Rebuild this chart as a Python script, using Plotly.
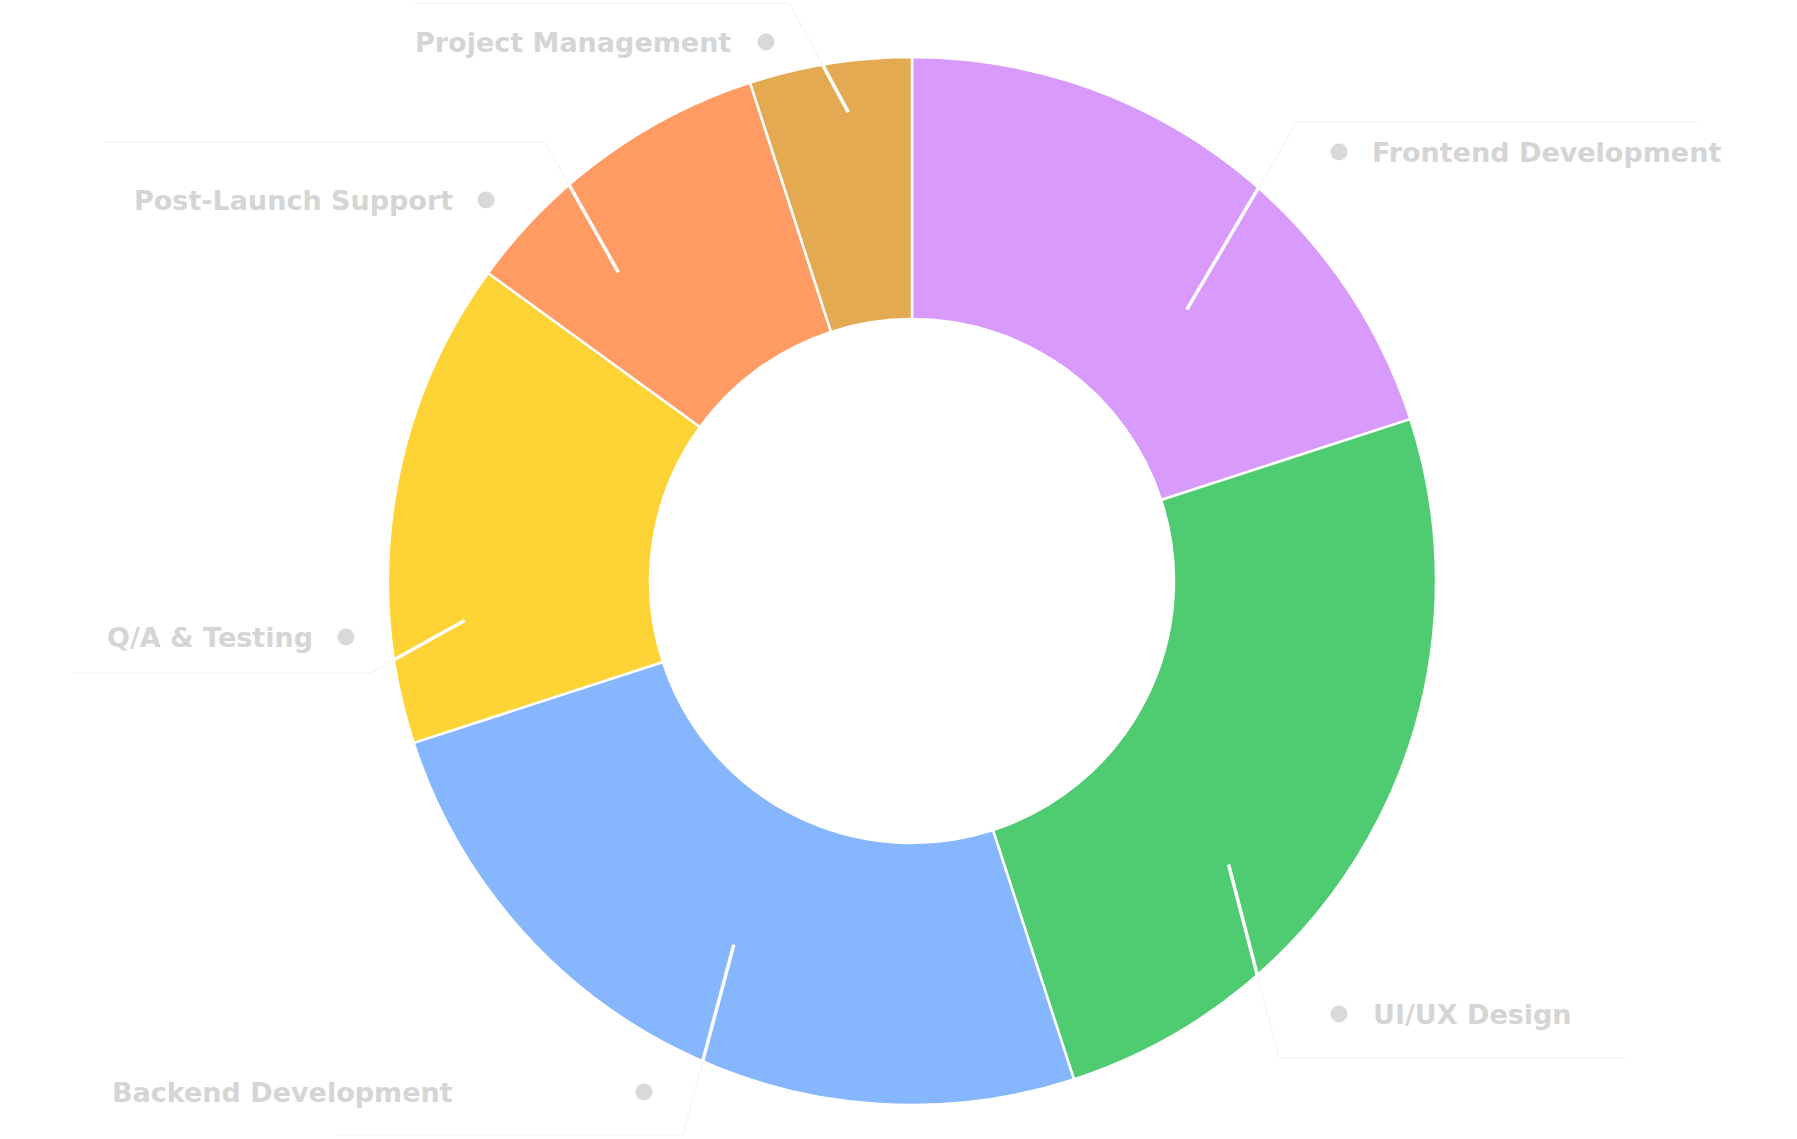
import math
import plotly.graph_objects as go

# ---------------- data ----------------
categories = ["Frontend Development", "UI/UX Design", "Backend Development",
              "Q/A & Testing", "Post-Launch Support", "Project Management"]
values = [20, 25, 25, 15, 10, 5]
colors = ["#D89BFC", "#4FCB71", "#86B6FE", "#FDD335", "#FF9B63", "#E4AA52"]

# ---------------- layout constants (pixels) ----------------
W, H = 1797, 1139
CX, CY, R = 912, 581, 524
HOLE = 0.5

# label placement: side, text anchor x, text y, elbow (x, y), box line x-extent,
# leader anchor: fraction across slice angle, fraction of outer radius
label_layout = {
    "Frontend Development": dict(side="right", tx=1370, ty=152, dot=1339, ex=1297, ey=122, bx=(1297, 1700), af=0.63, rf=0.737),
    "UI/UX Design":         dict(side="right", tx=1371, ty=1014, dot=1339, ex=1279, ey=1058, bx=(1279, 1627), af=0.665, rf=0.811),
    "Backend Development":  dict(side="left", tx=455, ty=1092, dot=644, ex=683, ey=1135, bx=(338, 683), af=0.49, rf=0.773),
    "Q/A & Testing":        dict(side="left", tx=315, ty=637, dot=346, ex=370, ey=673, bx=(72, 370), af=0.24, rf=0.857),
    "Post-Launch Support":  dict(side="left", tx=455, ty=200, dot=486, ex=545, ey=142, bx=(105, 545), af=0.29, rf=0.813),
    "Project Management":   dict(side="left", tx=733, ty=42, dot=766, ex=789, ey=3, bx=(415, 789), af=0.57, rf=0.903),
}

TEXT_COLOR = "#D5D5D5"
DOT_COLOR = "#D9D9D9"
FAINT = "#F6F6F6"


def px(x):
    return x / W


def py(y):
    return 1 - y / H


fig = go.Figure()
fig.add_trace(go.Pie(
    labels=categories,
    values=values,
    marker=dict(colors=colors, line=dict(color="white", width=2.5)),
    hole=HOLE,
    sort=False,
    direction="clockwise",
    rotation=0,
    textinfo="none",
    hoverinfo="label+percent",
    showlegend=False,
    domain=dict(x=[px(CX - R), px(CX + R)], y=[py(CY + R), py(CY - R)]),
))

shapes = []
annotations = []
total = sum(values)
start = 0.0
for cat, val in zip(categories, values):
    span = val / total * 360.0
    L = label_layout[cat]
    theta = math.radians(start + L["af"] * span)
    r = L["rf"] * R
    ax_, ay_ = CX + r * math.sin(theta), CY - r * math.cos(theta)
    ex, ey = L["ex"], L["ey"]
    # intersection with outer circle
    dx, dy = ex - ax_, ey - ay_
    ox, oy = ax_ - CX, ay_ - CY
    a = dx * dx + dy * dy
    b = 2 * (ox * dx + oy * dy)
    c = ox * ox + oy * oy - R * R
    t = (-b + math.sqrt(b * b - 4 * a * c)) / (2 * a)
    ix, iy = ax_ + t * dx, ay_ + t * dy
    # faint outer part of leader + box line
    shapes.append(dict(type="line", xref="paper", yref="paper", layer="above",
                       x0=px(ix), y0=py(iy), x1=px(ex), y1=py(ey),
                       line=dict(color=FAINT, width=1.5)))
    shapes.append(dict(type="line", xref="paper", yref="paper", layer="above",
                       x0=px(L["bx"][0]), y0=py(ey), x1=px(L["bx"][1]), y1=py(ey),
                       line=dict(color=FAINT, width=1.5)))
    # white inner part of leader
    shapes.append(dict(type="line", xref="paper", yref="paper", layer="above",
                       x0=px(ax_), y0=py(ay_), x1=px(ix), y1=py(iy),
                       line=dict(color="white", width=3.5)))
    # dot
    d = 8.5
    shapes.append(dict(type="circle", xref="paper", yref="paper", layer="above",
                       x0=px(L["dot"] - d), x1=px(L["dot"] + d),
                       y0=py(L["ty"] + d), y1=py(L["ty"] - d),
                       fillcolor=DOT_COLOR, line=dict(width=0)))
    annotations.append(dict(
        text=cat, xref="paper", yref="paper",
        x=px(L["tx"]), y=py(L["ty"]),
        xanchor="left" if L["side"] == "right" else "right", yanchor="middle",
        showarrow=False,
        font=dict(family="DejaVu Sans", size=27, color=TEXT_COLOR, weight=700),
    ))
    start += span

fig.update_layout(
    width=W, height=H,
    margin=dict(l=0, r=0, t=0, b=0),
    paper_bgcolor="white", plot_bgcolor="white",
    shapes=shapes, annotations=annotations,
    showlegend=False,
)

fig.write_html("out.html",
               config={"displayModeBar": False},
               post_script="document.body.style.margin='0';document.body.style.overflow='hidden';")
